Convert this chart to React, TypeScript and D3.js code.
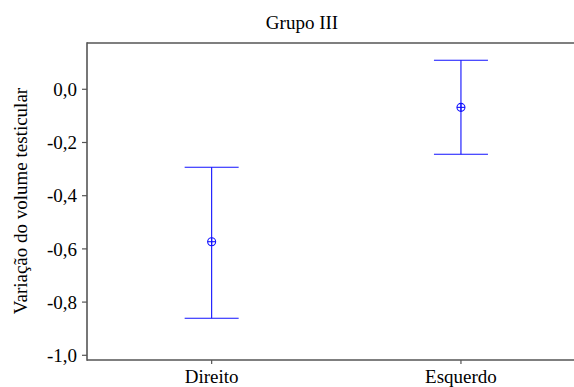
import React from "react";
import * as d3 from "d3";

const categories = ["Direito", "Esquerdo"];
const means = [-0.573, -0.068];
const upper = [-0.293, 0.109];
const lower = [-0.861, -0.244];
const yTicks = [0, -0.2, -0.4, -0.6, -0.8, -1.0];
const title = "Grupo III";
const yLabel = "Variação do volume testicular";

const W = 574;
const H = 387;
const left = 87;
const top = 43;
const bottom = 360;

export default function App() {
  const x = d3.scalePoint<string>().domain(categories).range([left, 585.6]).padding(0.5);
  const y = d3.scaleLinear().domain([-1.0177, 0.174]).range([bottom, top]);
  const fmt = (v: number) => d3.format(".1f")(v).replace(".", ",").replace("−", "-");
  const font = "Liberation Serif, Times New Roman, serif";
  const axisColor = "#555";
  const blue = "#1010ff";
  const capHalf = 27;
  const r = 4;
  const ts = { fontFamily: font, fontSize: 19, fill: "#000" } as React.CSSProperties;
  return (
    <svg width={W} height={H} style={{ position: "absolute", left: 0, top: 0, background: "#fff" }}>
      <text x={302} y={29} textAnchor="middle" style={ts}>{title}</text>
      <line x1={left} x2={W} y1={top} y2={top} stroke={axisColor} strokeWidth={1.6} />
      <line x1={left} x2={W} y1={bottom} y2={bottom} stroke={axisColor} strokeWidth={1.6} />
      <line x1={left} x2={left} y1={top - 0.8} y2={bottom + 0.8} stroke={axisColor} strokeWidth={1.6} />
      {yTicks.map((t) => (
        <g key={t}>
          <line x1={left - 5} x2={left} y1={y(t)} y2={y(t)} stroke={axisColor} strokeWidth={1.2} />
          <text x={77} y={y(t)} dy="0.35em" textAnchor="end" style={ts}>{fmt(t)}</text>
        </g>
      ))}
      {categories.map((c) => (
        <g key={c}>
          <line x1={x(c)} x2={x(c)} y1={bottom} y2={bottom + 4} stroke={axisColor} strokeWidth={1.2} />
          <text x={x(c)} y={383} textAnchor="middle" style={ts}>{c}</text>
        </g>
      ))}
      <text transform={`translate(27,201) rotate(-90)`} textAnchor="middle" style={ts}>{yLabel}</text>
      {categories.map((c, i) => {
        const cx = x(c) as number;
        return (
          <g key={c} stroke={blue} fill="none" strokeWidth={1.1}>
            <line x1={cx} x2={cx} y1={y(upper[i])} y2={y(lower[i])} />
            <line x1={cx - capHalf} x2={cx + capHalf} y1={y(upper[i])} y2={y(upper[i])} />
            <line x1={cx - capHalf} x2={cx + capHalf} y1={y(lower[i])} y2={y(lower[i])} />
            <circle cx={cx} cy={y(means[i])} r={r} />
            <line x1={cx - r} x2={cx + r} y1={y(means[i])} y2={y(means[i])} />
            <line x1={cx} x2={cx} y1={y(means[i]) - r} y2={y(means[i]) + r} />
          </g>
        );
      })}
    </svg>
  );
}
